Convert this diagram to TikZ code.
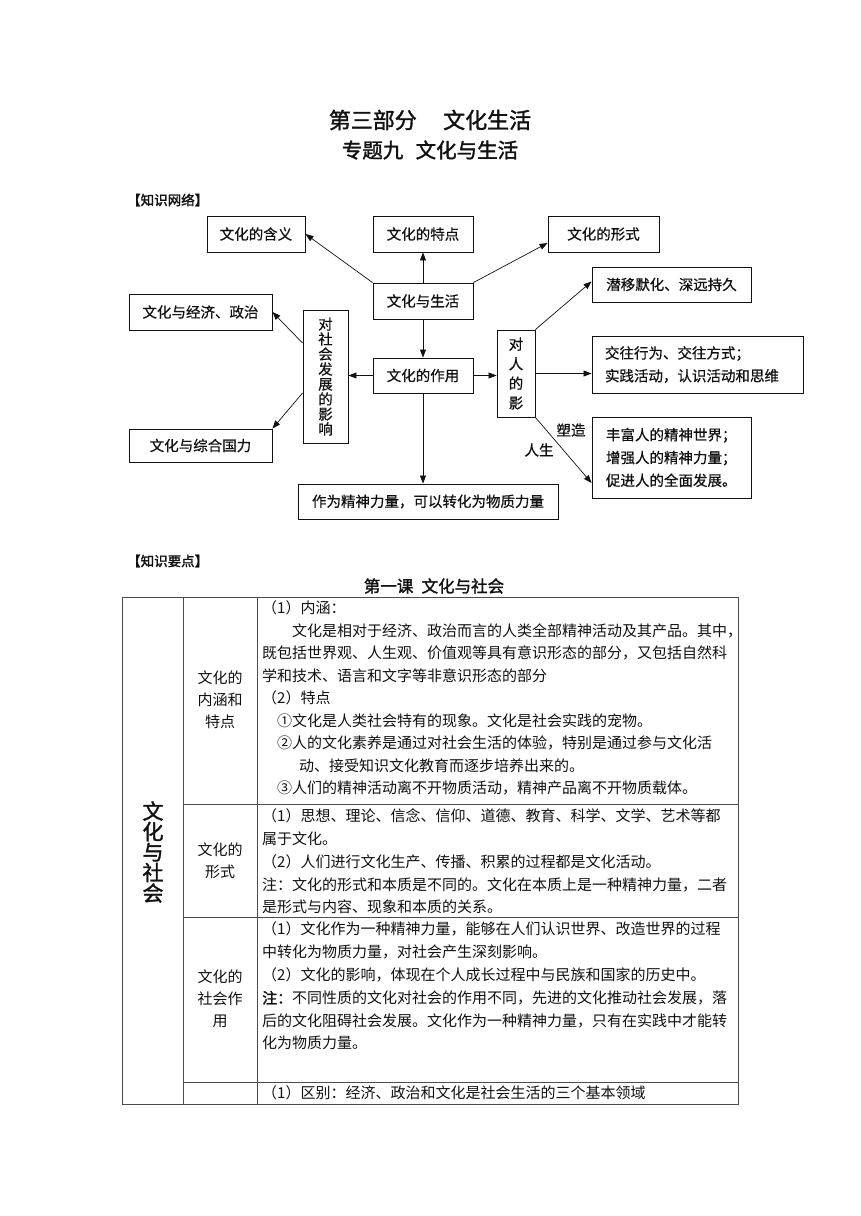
\documentclass[tikz,border=0pt]{standalone}
\usepackage{fontspec}
\setmainfont{Noto Sans CJK SC}
\newfontfamily\hei{Noto Sans CJK SC}[FakeBold=0.6]
\newfontfamily\heavy{Noto Sans CJK SC}[FakeBold=1.6]
\newfontfamily\song{Noto Sans CJK SC}
\usepackage{xcolor}
\usetikzlibrary{arrows.meta,positioning}
\definecolor{ink}{HTML}{111111}
\definecolor{rule}{HTML}{4D4D4D}
\tikzset{
  box/.style={rectangle, draw=ink, line width=0.9pt, fill=white, align=center, inner sep=2pt,
              font=\hei\fontsize{14.5}{17}\selectfont},
  listbox/.style={box, align=left, font=\hei\fontsize{14.5}{22.8}\selectfont},
  vbox/.style={box, font=\hei\fontsize{14.5}{15}\selectfont},
  wbox/.style={box, font=\hei\fontsize{14.5}{19.6}\selectfont},
  flow/.style={-{Triangle[length=8pt,width=6pt]}, draw=ink, line width=0.7pt},
  lbl/.style={inner sep=0pt, font=\hei\fontsize{14.5}{17}\selectfont},
  head/.style={inner sep=0pt, font=\heavy\fontsize{13.5}{16}\selectfont},
  cell/.style={anchor=west, inner sep=0pt, font=\song\fontsize{15}{18}\selectfont},
  kind/.style={inner sep=0pt, align=center, font=\song\fontsize{15}{22.2}\selectfont},
}

\begin{document}
\begin{tikzpicture}[x=1pt,y=-1pt, every node/.style={text=ink}]
\fill[white] (0,0) rectangle (860,1216);
\useasboundingbox (0,0) rectangle (860,1216);

% titles
\node[inner sep=0pt, font=\heavy\fontsize{22}{24}\selectfont] (ttl) at (430,120) {第三部分\hspace{1.2em}文化生活};
\node[inner sep=0pt, font=\heavy\fontsize{20.5}{22}\selectfont] (sub) at (430,150) {专题九\hspace{0.6em}文化与生活};
\node[head, anchor=west] (net) at (127,200) {【知识网络】};

% knowledge network
\node[box, minimum width=98,  minimum height=36] (hanyi)   at (256,234)   {文化的含义};
\node[box, minimum width=100, minimum height=36] (tedian)  at (423,234)   {文化的特点};
\node[box, minimum width=111, minimum height=36] (xingshi) at (603.5,234) {文化的形式};
\node[box, minimum width=100, minimum height=36] (shenghuo) at (423,301)  {文化与生活};
\node[box, minimum width=100, minimum height=35] (zuoyong) at (423,375.5) {文化的作用};
\node[vbox, minimum width=45, minimum height=133] (shehui) at (325.5,376.5) {对\\社\\会\\发\\展\\的\\影\\响};
\node[box, minimum width=143, minimum height=36] (jingji) at (200.5,312)  {文化与经济、政治};
\node[box, minimum width=143, minimum height=33] (guoli)  at (200.5,445.5) {文化与综合国力};
\node[box, minimum width=260, minimum height=35] (wuzhi)  at (428,501.5)  {作为精神力量，可以转化为物质力量};
\node[wbox, minimum width=38, minimum height=87] (duiren) at (516,373.5)  {对\\人\\的\\影};
\node[box, minimum width=159, minimum height=35] (qianyi) at (671.5,284.5) {潜移默化、深远持久};
\node[listbox, text width=185, minimum width=211, minimum height=57] (jiaowang) at (697.5,364.5) {交往行为、交往方式；\\实践活动，认识活动和思维};
\node[listbox, text width=131, minimum width=159, minimum height=81] (fengfu) at (671.5,457.5) {丰富人的精神世界；\\增强人的精神力量；\\促进人的全面发展。};
\node[lbl] (suzao)   at (571,430) {塑造};
\node[lbl] (rensheng) at (539,450) {人生};

\draw[flow] (shenghuo.north west) -- (hanyi.east);
\draw[flow] (shenghuo.north) -- (tedian.south);
\draw[flow] (shenghuo.north east) -- ([yshift=-9pt]xingshi.west);
\draw[flow] (shenghuo.south) -- (zuoyong.north);
\draw[flow] (zuoyong.west) -- (zuoyong.west -| shehui.east);
\draw[flow] ([yshift=33.5pt]shehui.west) -- (jingji.east);
\draw[flow] ([yshift=-16.5pt]shehui.west) -- (guoli.north east);
\draw[flow] (zuoyong.south) -- (zuoyong.south |- wuzhi.north);
\draw[flow] (zuoyong.east) -- (zuoyong.east -| duiren.west);
\draw[flow] (duiren.north east) -- ([yshift=3pt]qianyi.west);
\draw[flow] (duiren.east) -- (duiren.east -| jiaowang.west);
\draw[flow] (duiren.south east) -- ([yshift=-25.5pt]fengfu.west);

% knowledge points
\node[head, anchor=west] (pts) at (127,561) {【知识要点】};
\node[inner sep=0pt, font=\heavy\fontsize{16.5}{19}\selectfont] (lesson) at (434,586) {第一课\hspace{0.5em}文化与社会};

\draw[rule, line width=1pt] (122,597) rectangle (738,1104);
\draw[rule, line width=0.8pt] (183,597) -- (183,1104) (257,597) -- (257,1104);
\draw[rule, line width=0.8pt] (183,804) -- (738,804) (183,917) -- (738,917) (183,1082) -- (738,1082);

\node[inner sep=0pt, align=center, font=\heavy\fontsize{21}{20.5}\selectfont] (topic) at (153,852) {文\\化\\与\\社\\会};
\node[kind] (k1) at (220,700) {文化的\\内涵和\\特点};
\node[kind] (k2) at (220,861) {文化的\\形式};
\node[kind] (k3) at (220,999) {文化的\\社会作\\用};

% row 1
\node[cell] (a1) at (262,608) {（1）内涵：};
\node[cell] (a2) at (292,631) {文化是相对于经济、政治而言的人类全部精神活动及其产品。其中，};
\node[cell] (a3) at (262,653) {既包括世界观、人生观、价值观等具有意识形态的部分，又包括自然科};
\node[cell] (a4) at (262,676) {学和技术、语言和文字等非意识形态的部分};
\node[cell] (a5) at (262,698) {（2）特点};
\node[cell] (a6) at (277,721) {①文化是人类社会特有的现象。文化是社会实践的宠物。};
\node[cell] (a7) at (277,743) {②人的文化素养是通过对社会生活的体验，特别是通过参与文化活};
\node[cell] (a8) at (299,766) {动、接受知识文化教育而逐步培养出来的。};
\node[cell] (a9) at (277,788) {③人们的精神活动离不开物质活动，精神产品离不开物质载体。};
% row 2
\node[cell] (b1) at (262,816) {（1）思想、理论、信念、信仰、道德、教育、科学、文学、艺术等都};
\node[cell] (b2) at (262,839) {属于文化。};
\node[cell] (b3) at (262,862) {（2）人们进行文化生产、传播、积累的过程都是文化活动。};
\node[cell] (b4) at (262,885) {注：文化的形式和本质是不同的。文化在本质上是一种精神力量，二者};
\node[cell] (b5) at (262,907) {是形式与内容、现象和本质的关系。};
% row 3
\node[cell] (c1) at (262,929) {（1）文化作为一种精神力量，能够在人们认识世界、改造世界的过程};
\node[cell] (c2) at (262,952) {中转化为物质力量，对社会产生深刻影响。};
\node[cell] (c3) at (262,975) {（2）文化的影响，体现在个人成长过程中与民族和国家的历史中。};
\node[cell] (c4) at (262,998) {{\heavy 注：}不同性质的文化对社会的作用不同，先进的文化推动社会发展，落};
\node[cell] (c5) at (262,1021) {后的文化阻碍社会发展。文化作为一种精神力量，只有在实践中才能转};
\node[cell] (c6) at (262,1043) {化为物质力量。};
% row 4
\node[cell] (d1) at (262,1093) {（1）区别：经济、政治和文化是社会生活的三个基本领域};
\end{tikzpicture}
\end{document}
